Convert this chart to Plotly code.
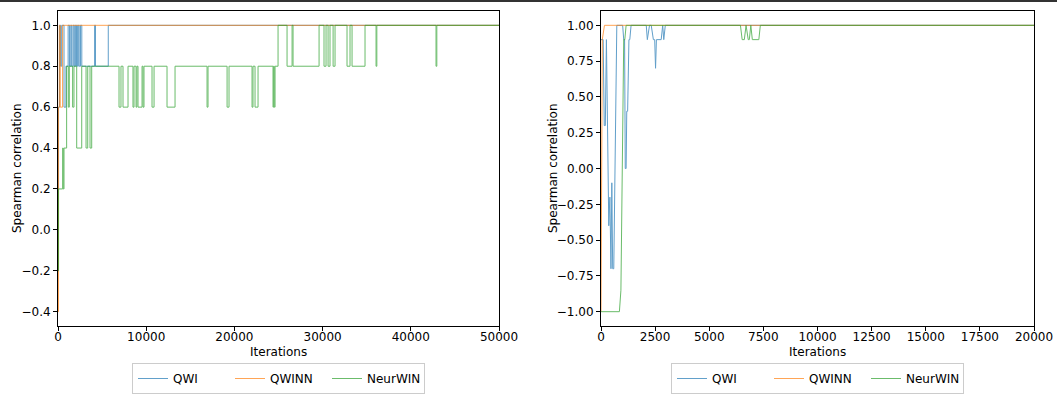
import plotly.graph_objects as go

# ---------------- data ----------------
# Left panel (0..50000 iterations)
qwi_left_iter = [0, 60, 180, 300, 420, 680, 900, 1150, 1300, 1450, 1550, 1700, 1800, 1900, 2000,
                 2100, 2200, 2300, 2400, 2550, 2700, 4150, 4250, 5700, 50000]
qwi_left_val = [-0.2, 0.6, 1.0, 0.8, 1.0, 0.6, 0.8, 1.0, 0.8, 1.0, 0.8, 1.0, 0.8, 1.0, 0.8,
                1.0, 0.8, 1.0, 0.8, 1.0, 0.8, 1.0, 0.8, 1.0, 1.0]

qwinn_left_iter = [0, 60, 150, 250, 520, 50000]
qwinn_left_val = [-0.4, 0.6, 1.0, 0.6, 1.0, 1.0]

neurwin_left_iter = [0, 60, 530, 600, 680, 980, 1170, 1280, 1660, 1810,
                     2120, 2690, 3180, 3370, 3630, 3820, 6920, 7140, 7370, 7940,
                     8500, 8620, 8850, 8950, 9070, 9530, 9640, 9750, 10660, 10890,
                     12360, 13270, 16900, 17010, 19170, 19390, 22000, 22110, 22340, 22680,
                     24380, 24450, 24520, 24610, 24950, 25970, 26540, 26650, 29600, 30160,
                     30390, 30620, 30840, 31190, 31410, 32770, 33110, 33340, 34810, 36060,
                     36150, 42860, 42950, 50000]
neurwin_left_val = [-0.2, 0.2, 0.4, 0.2, 0.4, 0.8, 0.6, 0.8, 0.6, 0.8,
                    0.4, 0.8, 0.4, 0.8, 0.4, 0.8, 0.6, 0.8, 0.6, 0.8,
                    0.6, 0.8, 0.6, 0.8, 0.6, 0.8, 0.6, 0.8, 0.6, 0.8,
                    0.6, 0.8, 0.6, 0.8, 0.6, 0.8, 0.6, 0.8, 0.6, 0.8,
                    0.6, 0.8, 0.6, 0.8, 1.0, 0.8, 1.0, 0.8, 1.0, 0.8,
                    1.0, 0.8, 1.0, 0.8, 1.0, 0.8, 1.0, 0.8, 1.0, 0.8,
                    1.0, 0.8, 1.0, 1.0]

# Right panel (0..20000 iterations)
qwi_right_iter = [0, 100, 150, 200, 250, 360, 410, 460, 500, 540,
                  590, 730, 1000, 1050, 1090, 1120, 1160, 1190, 1230, 1290,
                  1330, 1390, 2090, 2140, 2240, 2320, 2420, 2480, 2520, 2560,
                  2780, 2850, 2900, 2970, 20000]
qwi_right_val = [0.9, 0.9, 0.3, 0.3, 0.9, -0.4, -0.2, -0.7, -0.1, -0.7,
                 -0.7, 1.0, 1.0, 0.9, 0.9, 0.0, 0.0, 0.4, 0.4, 0.9,
                 0.9, 1.0, 1.0, 0.9, 1.0, 1.0, 0.9, 0.9, 0.7, 0.9,
                 0.9, 1.0, 0.9, 1.0, 1.0]

qwinn_right_iter = [0, 60, 160, 20000]
qwinn_right_val = [-1.0, 0.9, 1.0, 1.0]

neurwin_right_iter = [0, 850, 920, 1050, 1100, 1160, 6440, 6520, 6620, 6700,
                      6800, 6850, 6920, 6990, 7290, 7360, 20000]
neurwin_right_val = [-1.0, -1.0, -0.85, 0.9, 0.9, 1.0, 1.0, 0.9, 0.9, 1.0,
                     0.9, 0.9, 1.0, 0.9, 0.9, 1.0, 1.0]

series_names = ["QWI", "QWINN", "NeurWIN"]
colors = ["#1f77b4", "#ff7f0e", "#2ca02c"]

x_title = "Iterations"
y_title = "Spearman correlation"

left_x_ticks = [0, 10000, 20000, 30000, 40000, 50000]
left_y_ticks = [-0.4, -0.2, 0.0, 0.2, 0.4, 0.6, 0.8, 1.0]
right_x_ticks = [0, 2500, 5000, 7500, 10000, 12500, 15000, 17500, 20000]
right_y_ticks = [-1.0, -0.75, -0.5, -0.25, 0.0, 0.25, 0.5, 0.75, 1.0]

# ---------------- figure ----------------
W, H = 1057, 394
FONT = "DejaVu Sans"

fig = go.Figure()

left = [(qwi_left_iter, qwi_left_val), (qwinn_left_iter, qwinn_left_val),
        (neurwin_left_iter, neurwin_left_val)]
right = [(qwi_right_iter, qwi_right_val), (qwinn_right_iter, qwinn_right_val),
         (neurwin_right_iter, neurwin_right_val)]

for (xs, ys), name, c in zip(left, series_names, colors):
    fig.add_trace(go.Scatter(x=xs, y=ys, mode="lines", name=name,
                             line=dict(color=c, width=1, shape="hv"), opacity=0.7,
                             xaxis="x", yaxis="y", legend="legend"))
for (xs, ys), name, c in zip(right, series_names, colors):
    fig.add_trace(go.Scatter(x=xs, y=ys, mode="lines", name=name,
                             line=dict(color=c, width=1), opacity=0.7,
                             xaxis="x2", yaxis="y2", legend="legend2"))

def px_x(p):
    return p / W

def px_y(p):
    return 1 - p / H

axis_common = dict(showline=True, linecolor="black", linewidth=1, mirror=True,
                   ticks="outside", ticklen=4, tickwidth=1, tickcolor="black",
                   showgrid=False, zeroline=False, automargin=False,
                   tickfont=dict(family=FONT, size=12, color="black"))

ydom = [px_y(326), px_y(11)]

legend_common = dict(orientation="h", xanchor="center", y=px_y(363), yanchor="top",
                     bordercolor="#cccccc", borderwidth=1, bgcolor="white",
                     entrywidthmode="pixels", entrywidth=52,
                     font=dict(family=FONT, size=12, color="black"))

title_font = dict(family=FONT, size=12, color="black")
annotations = [
    dict(text=x_title, xref="paper", yref="paper", x=(58 + 499) / 2 / W, y=px_y(352),
         xanchor="center", yanchor="middle", showarrow=False, font=title_font),
    dict(text=x_title, xref="paper", yref="paper", x=(601 + 1034) / 2 / W, y=px_y(352),
         xanchor="center", yanchor="middle", showarrow=False, font=title_font),
    dict(text=y_title, xref="paper", yref="paper", x=px_x(17), y=px_y(168),
         xanchor="center", yanchor="middle", textangle=-90, showarrow=False, font=title_font),
    dict(text=y_title, xref="paper", yref="paper", x=px_x(553), y=px_y(168),
         xanchor="center", yanchor="middle", textangle=-90, showarrow=False, font=title_font),
]

fig.update_layout(
    width=W, height=H, autosize=False,
    margin=dict(l=0, r=0, t=0, b=0, pad=0),
    paper_bgcolor="white", plot_bgcolor="white",
    font=dict(family=FONT, size=12, color="black"),
    xaxis=dict(domain=[px_x(58), px_x(499)], range=[0, 50000], tickvals=left_x_ticks,
               tickformat="d", anchor="y", ticklabelstandoff=-4, **axis_common),
    yaxis=dict(domain=ydom, range=[-0.47, 1.07], tickvals=left_y_ticks, tickformat=".1f",
               anchor="x", **axis_common),
    xaxis2=dict(domain=[px_x(601), px_x(1034)], range=[0, 20000], tickvals=right_x_ticks,
                tickformat="d", anchor="y2", ticklabelstandoff=-4, **axis_common),
    yaxis2=dict(domain=ydom, range=[-1.1, 1.1], tickvals=right_y_ticks, tickformat=".2f",
                anchor="x2", **axis_common),
    legend=dict(x=(58 + 499) / 2 / W, **legend_common),
    legend2=dict(x=(601 + 1034) / 2 / W, **legend_common),
    annotations=annotations,
    shapes=[dict(type="line", xref="paper", yref="paper", x0=0, x1=1,
                 y0=1 - 1 / H, y1=1 - 1 / H, line=dict(color="#333333", width=2))],
)

fig.write_html("out.html", config={"responsive": False})
